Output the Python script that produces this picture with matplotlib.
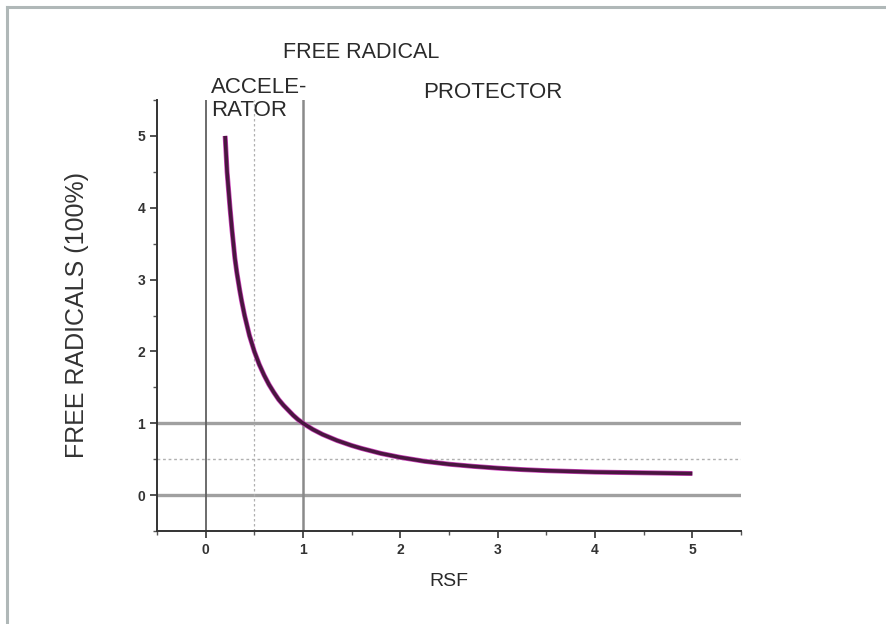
import matplotlib.pyplot as plt
from matplotlib.lines import Line2D

# values
rsf = [0.2, 0.22, 0.25, 0.27, 0.3, 0.32, 0.35, 0.37, 0.4, 0.45, 0.5, 0.55, 0.6,
       0.65, 0.7, 0.75, 0.8, 0.85, 0.9, 0.95, 1.0, 1.1, 1.2, 1.35, 1.5, 1.6,
       1.8, 2.0, 2.25, 2.5, 2.75, 3.0, 3.25, 3.5, 4.0, 4.5, 5.0]
free_radicals = [5.0, 4.5, 4.0, 3.7, 3.3, 3.1, 2.85, 2.7, 2.5, 2.22, 2.0, 1.82, 1.67,
                 1.54, 1.43, 1.33, 1.25, 1.18, 1.11, 1.05, 1.0, 0.915, 0.845, 0.76, 0.69, 0.65,
                 0.58, 0.525, 0.47, 0.43, 0.40, 0.375, 0.355, 0.34, 0.32, 0.31, 0.30]
x_ticks = [0, 1, 2, 3, 4, 5]
y_ticks = [0, 1, 2, 3, 4, 5]

plt.rcParams['font.family'] = ['Liberation Sans', 'DejaVu Sans']

fig = plt.figure(figsize=(8.86, 6.24), dpi=100)
ax = fig.add_axes([157 / 886, 1 - 531 / 624, (741 - 157) / 886, (531 - 100) / 624])

# frame around the picture (only top and left edges visible)
fig.add_artist(Line2D([7 / 886, 7 / 886], [0, 1 - 7 / 624], transform=fig.transFigure,
                      color='#b0b8b8', lw=2.2))
fig.add_artist(Line2D([7 / 886, 1], [1 - 7 / 624, 1 - 7 / 624], transform=fig.transFigure,
                      color='#b0b8b8', lw=2.2))

# reference lines
ax.axhline(1, color='#a0a0a0', lw=2.4, zorder=1)
ax.axhline(0, color='#a0a0a0', lw=2.4, zorder=1)
ax.axhline(0.5, color='#b0b0b0', lw=1.0, ls=(0, (2, 2)), zorder=1)
ax.axvline(0, color='#606060', lw=1.3, zorder=1)
ax.axvline(1, color='#8a8a8a', lw=1.8, zorder=1)
ax.axvline(0.5, color='#b0b0b0', lw=0.9, ls=(0, (2, 2)), zorder=1)

ax.plot(rsf, free_radicals, color='#cc44bb', lw=3.6, solid_capstyle='butt',
        solid_joinstyle='round', zorder=2)
ax.plot(rsf, free_radicals, color='#4a1640', lw=2.6, solid_capstyle='butt',
        solid_joinstyle='round', zorder=3)

ax.set_xlim(-0.5, 5.5)
ax.set_ylim(-0.5, 5.5)
ax.set_xticks(x_ticks)
ax.set_yticks(y_ticks)
ax.set_xticks([-0.5 + 0.5 * i for i in range(13)], minor=True)
ax.set_yticks([-0.5 + 0.5 * i for i in range(13)], minor=True)
ax.tick_params(which='major', direction='out', length=5, width=1.2, color='#333333',
               labelsize=10, labelcolor='#333333')
ax.tick_params(which='minor', direction='out', length=3, width=1.0, color='#555555')
for lab in ax.get_xticklabels() + ax.get_yticklabels():
    lab.set_fontweight('bold')
for s in ['top', 'right']:
    ax.spines[s].set_visible(False)
for s in ['left', 'bottom']:
    ax.spines[s].set_color('#333333')
    ax.spines[s].set_linewidth(1.4)

ax.set_xlabel('RSF', fontsize=14, color='#2a2a2a', labelpad=12)
ax.set_ylabel('FREE RADICALS (100%)', fontsize=18, color='#333333', labelpad=35)

fig.text(361 / 886, 1 - 52 / 624, 'FREE RADICAL', fontsize=15.5, color='#2a2a2a',
         ha='center', va='center')
fig.text(211 / 886, 1 - 99 / 624, 'ACCELE-\nRATOR', fontsize=16, color='#2a2a2a',
         ha='left', va='center', linespacing=1.15)
fig.text(493 / 886, 1 - 92 / 624, 'PROTECTOR', fontsize=16, color='#2a2a2a',
         ha='center', va='center')

fig.savefig('out.png', dpi=100)
